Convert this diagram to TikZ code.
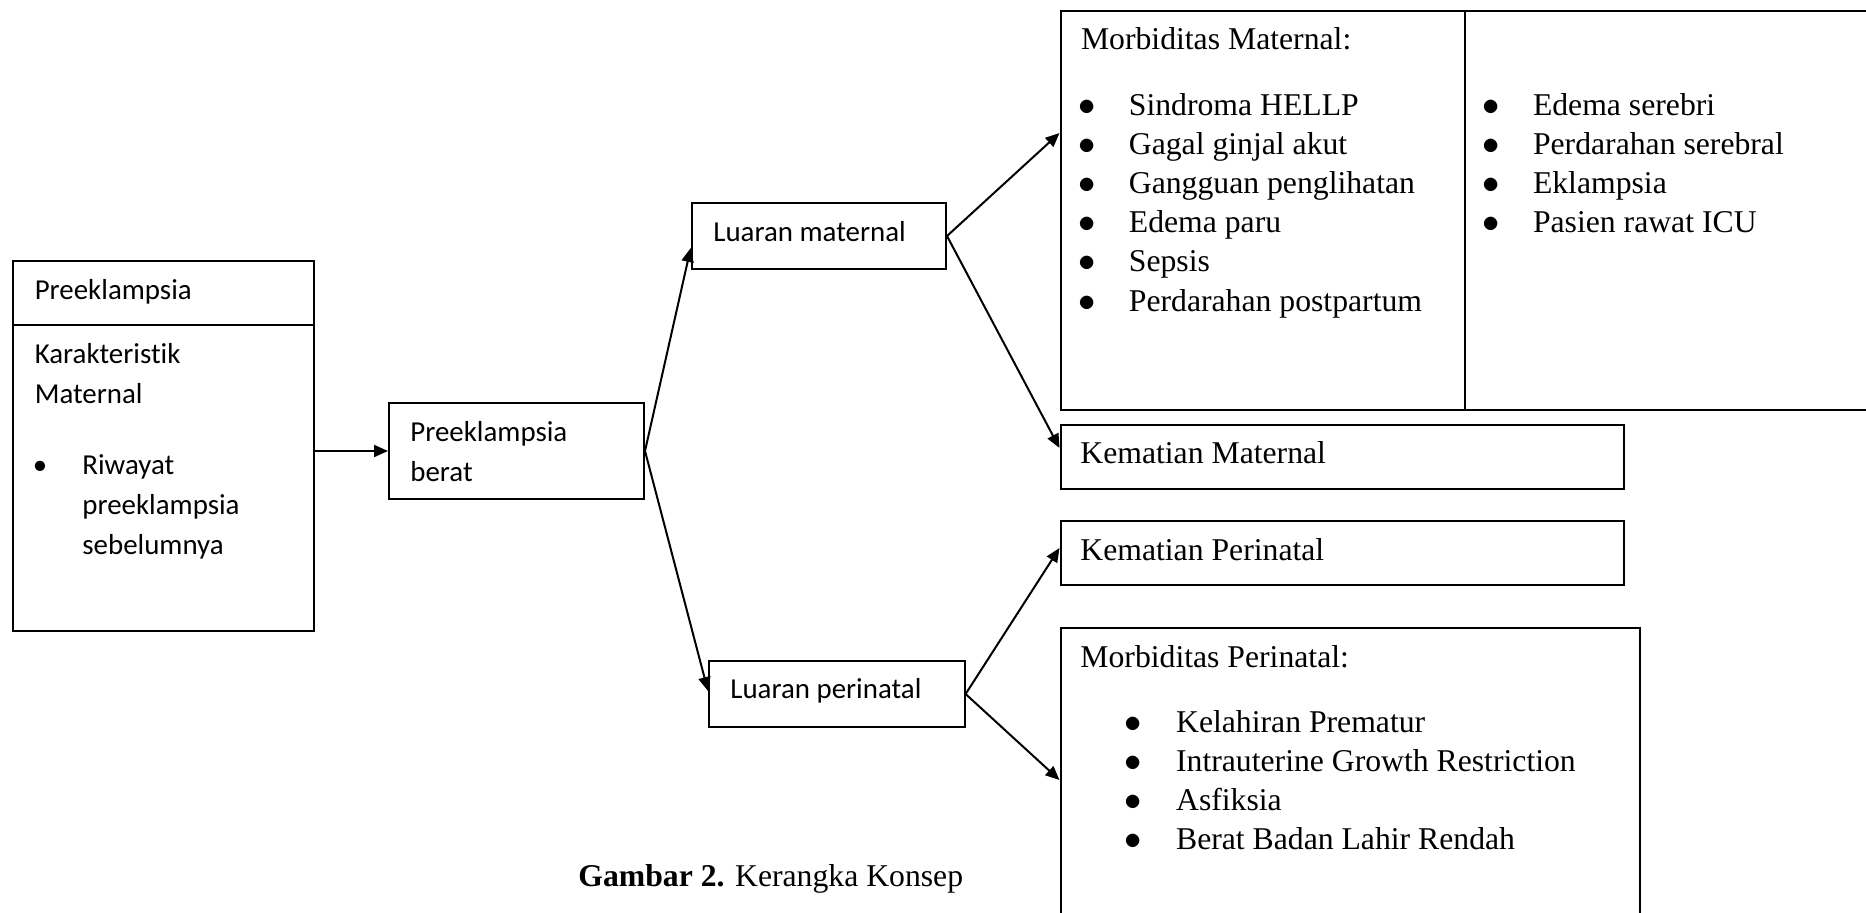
\documentclass[tikz,border=0pt]{standalone}
\usepackage{fontspec}
\setmainfont{Liberation Serif}
\newfontfamily\calibri[Ligatures=NoCommon]{Carlito}
\usetikzlibrary{arrows.meta}
\tikzset{
  box/.style={draw, rectangle, line width=1pt, inner sep=0pt, anchor=north west},
  txt/.style={anchor=base west, inner sep=0pt},
  dot/.style={anchor=base, inner sep=0pt},
  cal/.style={font=\calibri\fontsize{14.45}{20}\selectfont},
  tnr/.style={font=\fontsize{15.85}{19.6}\selectfont},
  arr/.style={-{Triangle[length=7pt,width=6pt]}, line width=1pt}}
\begin{document}
\begin{tikzpicture}[x=0.5pt,y=-0.5pt]
\useasboundingbox (0,0) rectangle (1866,912);
% boxes
\node[box, minimum width=150.25pt, minimum height=32pt] (pre) at (12,260) {};
\node[box, minimum width=150.25pt, minimum height=153pt] (kar) at (12,324) {};
\node[box, minimum width=127.5pt, minimum height=48pt] (pb) at (388,402) {};
\node[box, minimum width=127.15pt, minimum height=33pt] (lm) at (690.7,202) {};
\node[box, minimum width=127.8pt, minimum height=33pt] (lp) at (708,660) {};
\node[box, minimum width=202.25pt, minimum height=199.5pt] (mmL) at (1059.5,10) {};
\node[box, minimum width=215pt, minimum height=199.5pt] (mmR) at (1464,10) {};
\node[box, minimum width=281.75pt, minimum height=32pt] (km) at (1059.5,424) {};
\node[box, minimum width=281.75pt, minimum height=32pt] (kp) at (1059.5,520) {};
\node[box, minimum width=289.5pt, minimum height=155pt] (mp) at (1059.5,627) {};

% left part
\node[txt,cal] (preT) at (34.4,299) {Preeklampsia};
\node[txt,cal] (karT1) at (34.4,363) {Karakteristik};
\node[txt,cal] (karT2) at (34.4,403) {Maternal};
\node[dot,cal] (karB) at (40,474) {•};
\node[txt,cal] (karI1) at (82,474) {Riwayat};
\node[txt,cal] (karI2) at (82,514) {preeklampsia};
\node[txt,cal] (karI3) at (82,554) {sebelumnya};
\node[txt,cal] (pbT1) at (410,441) {Preeklampsia};
\node[txt,cal] (pbT2) at (410,481) {berat};
\node[txt,cal] (lmT) at (713,241) {Luaran maternal};
\node[txt,cal] (lpT) at (730,698) {Luaran perinatal};

% right part
\node[txt,tnr] (mmT) at (1080.6,49) {Morbiditas Maternal:};
\foreach \t [count=\i] in {Sindroma HELLP, Gagal ginjal akut, Gangguan penglihatan,
  Edema paru, Sepsis, Perdarahan postpartum} {
  \node[dot,tnr] (mmLb\i) at (1087,{115+39.2*(\i-1)}) {$\bullet$};
  \node[txt,tnr] (mmLt\i) at (1128.5,{115+39.2*(\i-1)}) {\t};
}
\foreach \t [count=\i] in {Edema serebri, Perdarahan serebral, Eklampsia, Pasien rawat ICU} {
  \node[dot,tnr] (mmRb\i) at (1491.5,{115+39.2*(\i-1)}) {$\bullet$};
  \node[txt,tnr] (mmRt\i) at (1532.6,{115+39.2*(\i-1)}) {\t};
}
\node[txt,tnr] (kmT) at (1080,463) {Kematian Maternal};
\node[txt,tnr] (kpT) at (1080,560) {Kematian Perinatal};
\node[txt,tnr] (mpT) at (1080,667) {Morbiditas Perinatal:};
\foreach \t [count=\i] in {Kelahiran Prematur, Intrauterine Growth Restriction,
  Asfiksia, Berat Badan Lahir Rendah} {
  \node[dot,tnr] (mpb\i) at (1133.6,{732+39*(\i-1)}) {$\bullet$};
  \node[txt,tnr] (mpt\i) at (1175.7,{732+39*(\i-1)}) {\t};
}
\node[txt,tnr] (cap) at (578,886) {\textbf{Gambar 2.} Kerangka Konsep};

% arrows
\draw[arr] (pb.west -| kar.east) -- (pb.west);
\draw[arr] (pb.east) -- ([yshift=-6pt]lm.west);
\draw[arr] (pb.east) -- ([yshift=1.5pt]lp.west);
\draw[arr] (lm.east) -- ([yshift=38.75pt]mmL.west);
\draw[arr] (lm.east) -- ([yshift=4.5pt]km.west);
\draw[arr] (lp.east) -- ([yshift=2.5pt]kp.west);
\draw[arr] (lp.east) -- ([yshift=-76.5pt]mp.north west);
\end{tikzpicture}
\end{document}
